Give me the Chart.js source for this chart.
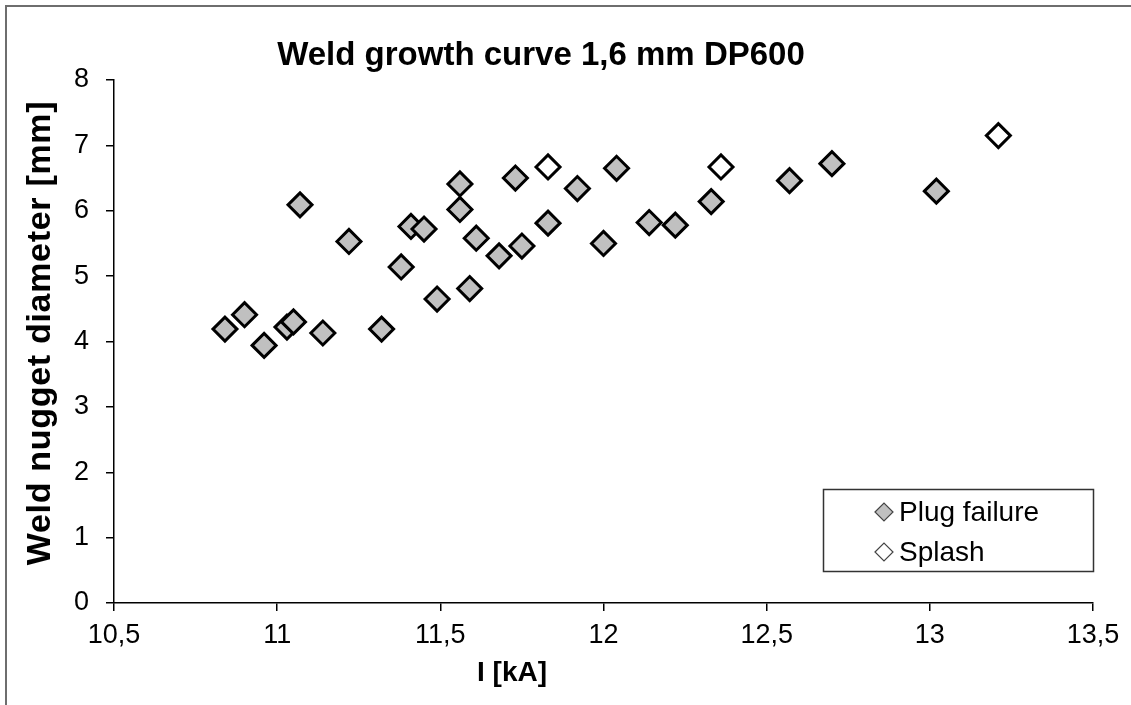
<!DOCTYPE html>
<html>
<head>
<meta charset="utf-8">
<title>Weld growth curve 1,6 mm DP600</title>
<script src="https://cdn.jsdelivr.net/npm/chart.js@4/dist/chart.umd.min.js"></script>
<style>
  html, body { margin: 0; padding: 0; background: #fff; }
  #wrap { width: 1131px; height: 705px; position: relative; }
  canvas { display: block; }
</style>
</head>
<body>
<div id="wrap"><canvas id="c" width="1131" height="705"></canvas></div>
<script>
// Weld current [kA] and nugget diameter [mm] for each test weld
const plugCurrent = [10.84, 10.90, 10.96, 11.03, 11.05, 11.07, 11.14, 11.22, 11.32, 11.38,
                     11.41, 11.45, 11.56, 11.56, 11.49, 11.59, 11.61, 11.68, 11.75, 11.73,
                     11.83, 11.92, 12.04, 12.00, 12.14, 12.22, 12.33, 12.57, 12.70, 13.02];
const plugDiameter = [4.19, 4.41, 3.94, 4.22, 4.30, 6.09, 4.13, 5.53, 4.19, 5.14,
                      5.76, 5.72, 6.41, 6.02, 4.65, 4.81, 5.58, 5.31, 5.46, 6.50,
                      5.81, 6.34, 6.65, 5.50, 5.82, 5.78, 6.14, 6.46, 6.72, 6.30];
const splashCurrent = [11.83, 12.36, 13.21];
const splashDiameter = [6.67, 6.67, 7.15];

const seriesNames = ['Plug failure', 'Splash'];
const chartTitle = 'Weld growth curve 1,6 mm DP600';
const xAxisTitle = 'I [kA]';
const yAxisTitle = 'Weld nugget diameter [mm]';

const xTickValues = [10.5, 11, 11.5, 12, 12.5, 13, 13.5];
const xTickLabels = ['10,5', '11', '11,5', '12', '12,5', '13', '13,5'];
const yTickValues = [0, 1, 2, 3, 4, 5, 6, 7, 8];
const yTickLabels = ['0', '1', '2', '3', '4', '5', '6', '7', '8'];

const FONT = "'Liberation Sans', Arial, sans-serif";

function toPoints(xs, ys) {
  return xs.map((x, i) => ({ x: x, y: ys[i] }));
}

// Outer frame, titles and the boxed legend inside the plot
const decorations = {
  id: 'decorations',
  beforeDraw(chart) {
    const ctx = chart.ctx;
    ctx.save();
    ctx.fillStyle = '#fff';
    ctx.fillRect(0, 0, chart.width, chart.height);
    ctx.strokeStyle = '#6e6e6e';
    ctx.lineWidth = 2;
    ctx.strokeRect(6, 6, chart.width + 20, chart.height + 20);
    ctx.restore();
  },
  afterDraw(chart) {
    const ctx = chart.ctx;
    const area = chart.chartArea;
    ctx.save();
    ctx.fillStyle = '#000';

    // chart title
    ctx.font = 'bold 33px ' + FONT;
    ctx.textAlign = 'center';
    ctx.textBaseline = 'alphabetic';
    ctx.fillText(chartTitle, 541, 65);

    // x axis title
    ctx.font = 'bold 28px ' + FONT;
    ctx.fillText(xAxisTitle, 512, 681);

    // y axis title, reading upwards
    ctx.save();
    ctx.translate(50, 333);
    ctx.rotate(-Math.PI / 2);
    ctx.font = 'bold 34px ' + FONT;
    if ('letterSpacing' in ctx) ctx.letterSpacing = '0.7px';
    ctx.fillText(yAxisTitle, 0, 0);
    ctx.restore();

    // legend
    const w = 270, h = 82;
    const left = area.right - w, top = area.bottom - 32 - h;
    ctx.strokeStyle = '#333';
    ctx.lineWidth = 1.5;
    ctx.strokeRect(left + 0.5, top + 0.5, w, h);
    ctx.font = '28px ' + FONT;
    ctx.textAlign = 'left';
    ctx.textBaseline = 'middle';
    chart.data.datasets.forEach((ds, i) => {
      const cy = top + 23 + i * 40;
      const cx = left + 61;
      const r = 9;
      ctx.beginPath();
      ctx.moveTo(cx - r, cy);
      ctx.lineTo(cx, cy - r);
      ctx.lineTo(cx + r, cy);
      ctx.lineTo(cx, cy + r);
      ctx.closePath();
      ctx.fillStyle = ds.backgroundColor;
      ctx.fill();
      ctx.strokeStyle = '#444';
      ctx.lineWidth = 1.2;
      ctx.stroke();
      ctx.fillStyle = '#000';
      ctx.fillText(ds.label, left + 76, cy + 1);
    });
    ctx.restore();
  }
};

new Chart(document.getElementById('c'), {
  type: 'scatter',
  data: {
    datasets: [
      {
        label: seriesNames[0],
        data: toPoints(plugCurrent, plugDiameter),
        pointStyle: 'rectRot',
        pointRadius: 12,
        pointBorderWidth: 3,
        borderColor: '#000',
        backgroundColor: '#c0c0c0'
      },
      {
        label: seriesNames[1],
        data: toPoints(splashCurrent, splashDiameter),
        pointStyle: 'rectRot',
        pointRadius: 12,
        pointBorderWidth: 3,
        borderColor: '#000',
        backgroundColor: '#ffffff'
      }
    ]
  },
  options: {
    responsive: false,
    animation: false,
    devicePixelRatio: 1,
    events: [],
    layout: { padding: { left: 6, right: 38, top: 80, bottom: 8 } },
    plugins: {
      legend: { display: false },
      title: { display: false },
      tooltip: { enabled: false }
    },
    scales: {
      x: {
        type: 'linear',
        min: 10.5,
        max: 13.5,
        afterBuildTicks(scale) { scale.ticks = xTickValues.map(v => ({ value: v })); },
        afterFit(scale) { scale.height = 94; },
        ticks: {
          color: '#000',
          font: { family: FONT, size: 27 },
          padding: 8,
          maxRotation: 0,
          autoSkip: false,
          callback: (v) => xTickLabels[xTickValues.indexOf(v)]
        },
        grid: { drawOnChartArea: false, drawTicks: true, tickLength: 8, color: '#000', lineWidth: 1.5 },
        border: { display: true, color: '#000', width: 1.5 },
        title: { display: false }
      },
      y: {
        type: 'linear',
        min: 0,
        max: 8,
        afterBuildTicks(scale) { scale.ticks = yTickValues.map(v => ({ value: v })); },
        afterFit(scale) { scale.width = 108; },
        ticks: {
          color: '#000',
          font: { family: FONT, size: 27 },
          padding: 17,
          autoSkip: false,
          callback: (v) => yTickLabels[yTickValues.indexOf(v)]
        },
        grid: { drawOnChartArea: false, drawTicks: true, tickLength: 8, color: '#000', lineWidth: 1.5 },
        border: { display: true, color: '#000', width: 1.5 },
        title: { display: false }
      }
    }
  },
  plugins: [decorations]
});
</script>
</body>
</html>
